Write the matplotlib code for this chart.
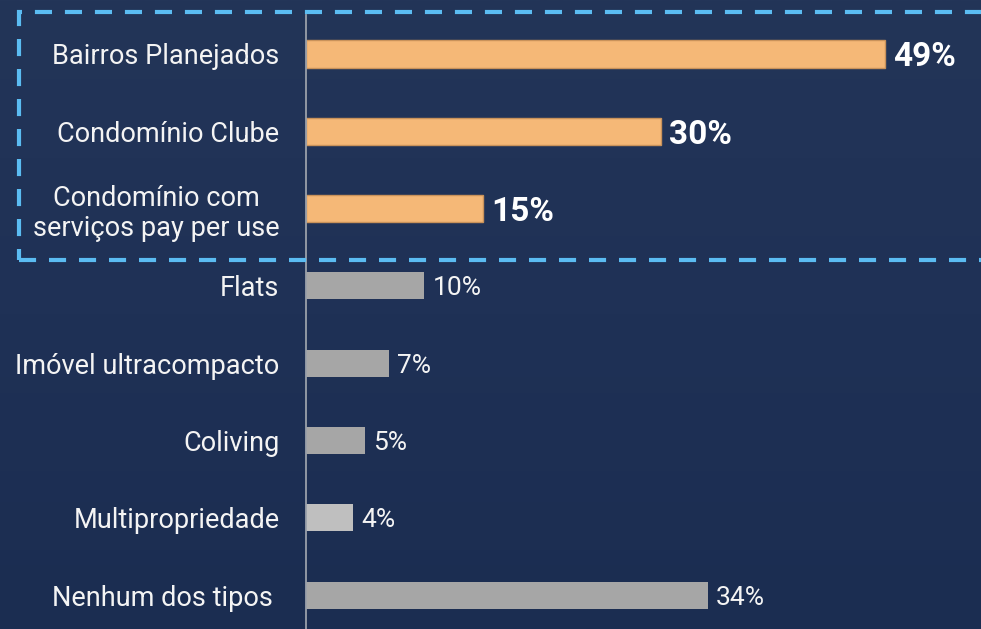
import matplotlib.pyplot as plt
import numpy as np
from matplotlib.patches import Rectangle
from matplotlib.colors import LinearSegmentedColormap

# Data ===========================================
categories = ['Bairros Planejados', 'Condomínio Clube',
              'Condomínio com\nserviços pay per use', 'Flats',
              'Imóvel ultracompacto', 'Coliving', 'Multipropriedade',
              'Nenhum dos tipos ']
values = [49, 30, 15, 10, 7, 5, 4, 34]
highlight = [True, True, True, False, False, False, False, False]
bar_colors = ['#f5b877', '#f5b877', '#f5b877', '#a6a6a6',
              '#a6a6a6', '#a6a6a6', '#bfbfbf', '#a6a6a6']

# General ========================================
plt.rcParams['font.family'] = ['Roboto', 'DejaVu Sans']
fig = plt.figure(figsize=(9.81, 6.29), dpi=100)
fig.patch.set_facecolor('#1f3154')

# background gradient
bg = fig.add_axes([0, 0, 1, 1], zorder=0)
grad = np.linspace(0, 1, 256).reshape(-1, 1)
cmap = LinearSegmentedColormap.from_list('bg', ['#233558', '#1f3156', '#1b2d51'])
bg.imshow(grad, aspect='auto', cmap=cmap, extent=[0, 1, 0, 1])
bg.set_axis_off()

# Bars ===========================================
W, H = 981, 629
x0 = 306
px_per_unit = 11.82
ax = fig.add_axes([x0 / W, 0, 1 - x0 / W, 1], zorder=2)
ax.patch.set_alpha(0)
y = np.arange(len(categories))
step = 77.3
ax.set_ylim((H - 54) / step, -54 / step)
ax.set_xlim(0, (W - x0) / px_per_unit)

edges = ['#c9925a' if h else 'none' for h in highlight]
ax.barh(y, values, height=0.35, color=bar_colors, edgecolor=edges, linewidth=1)

for yi, v, h in zip(y, values, highlight):
    if h:
        ax.text(v + 0.7, yi, f'{v}%', va='center_baseline', ha='left',
                color='white', fontsize=24, fontweight='bold')
    else:
        ax.text(v + 0.7, yi, f'{v}%', va='center_baseline', ha='left',
                color='#f4f4f4', fontsize=19, fontweight='normal')

ax.set_yticks(y)
ax.set_yticklabels(categories, fontsize=19.5, color='#f4f4f4',
                   multialignment='center', linespacing=1.15)
ax.tick_params(axis='y', length=0, pad=19)
ax.set_xticks([])
for s in ['top', 'right', 'bottom']:
    ax.spines[s].set_visible(False)
ax.spines['left'].set_color('#9aa0aa')
ax.spines['left'].set_linewidth(1.3)
ax.spines['left'].set_bounds(-39 / step, (H - 54) / step)

# Highlight box ==================================
box = Rectangle((19 / W, 1 - 260 / H), 1.2, (260 - 12) / H,
                transform=fig.transFigure, fill=False, edgecolor='#5bbcf2',
                linewidth=3, linestyle=(0, (4.1, 3.1)), zorder=3)
fig.add_artist(box)

fig.savefig('out.png', dpi=100, facecolor=fig.get_facecolor())
